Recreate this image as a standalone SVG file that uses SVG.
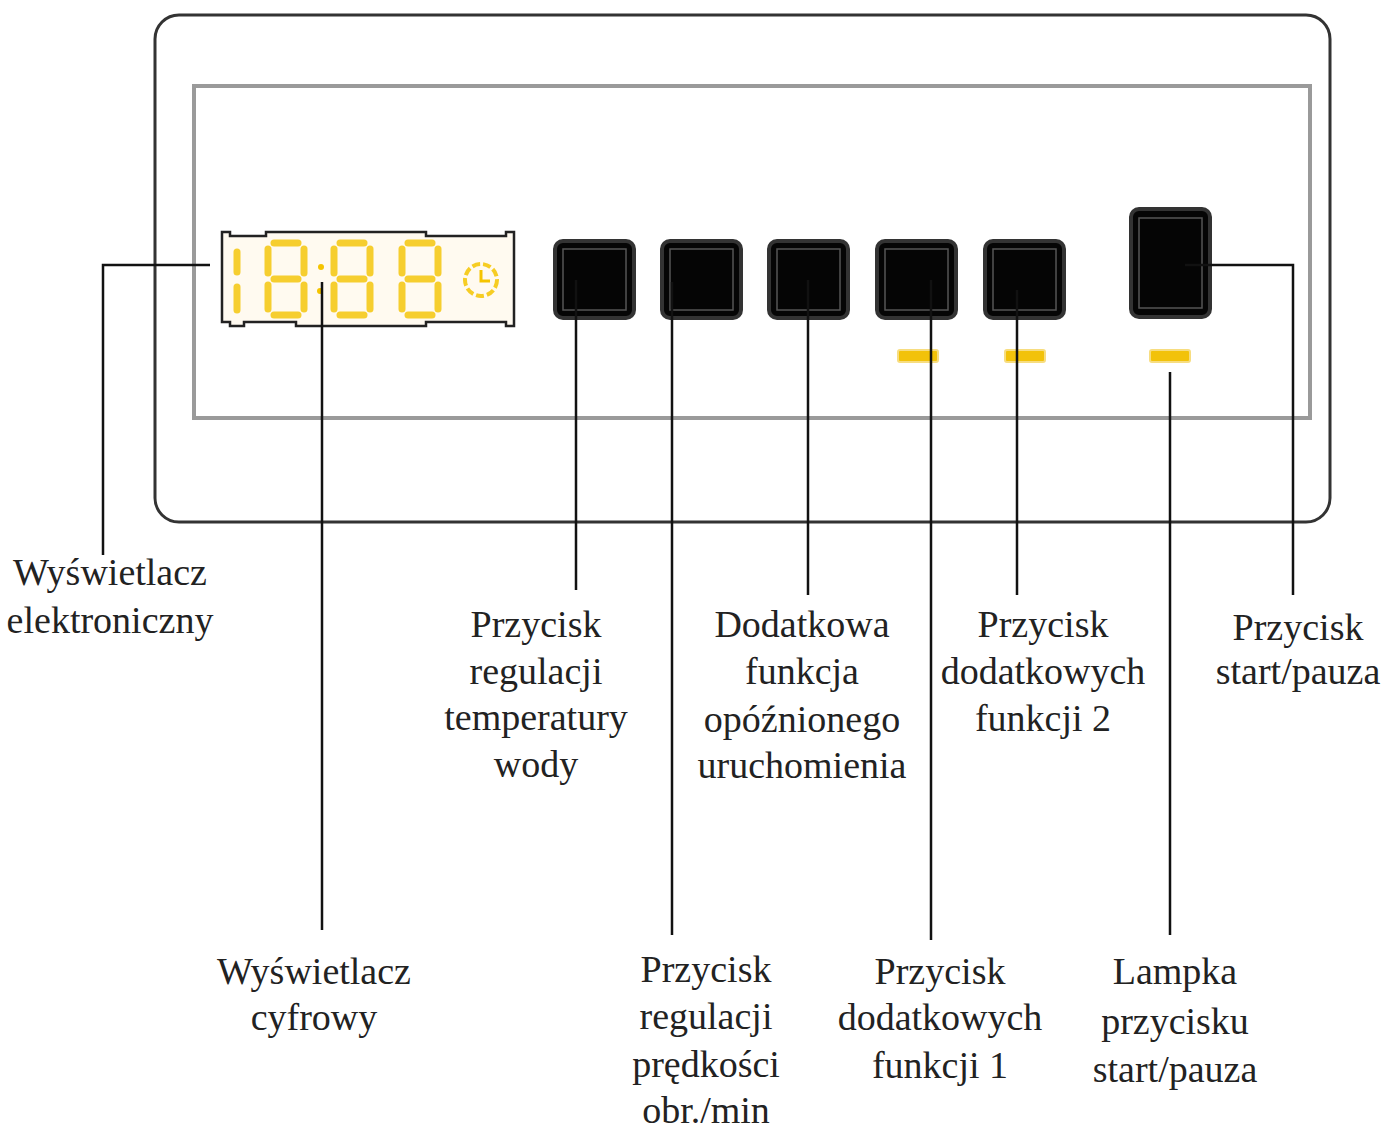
<svg xmlns="http://www.w3.org/2000/svg" xmlns:xlink="http://www.w3.org/1999/xlink" width="1395" height="1132" viewBox="0 0 1395 1132">
<style>
.t{font-family:"Liberation Serif",serif;font-size:38px;fill:#222;text-anchor:middle}
.ln{stroke:#111;stroke-width:2.5;fill:none}
.btn{fill:#050505;stroke:#333;stroke-width:4}
.bi{fill:none;stroke:#555;stroke-width:1.5}
.seg{stroke:#f5c400;stroke-width:7;stroke-linecap:round;opacity:.8}
.led{fill:#f2c20a;stroke:#f7dd80;stroke-width:2}
</style>
<defs>
<g id="d8" class="seg">
<line x1="8" y1="2" x2="32" y2="2"/><line x1="8" y1="38" x2="32" y2="38"/><line x1="8" y1="74" x2="32" y2="74"/>
<line x1="2" y1="8" x2="2" y2="32"/><line x1="2" y1="44" x2="2" y2="68"/>
<line x1="38" y1="8" x2="38" y2="32"/><line x1="38" y1="44" x2="38" y2="68"/>
</g>
</defs>
<rect width="1395" height="1132" fill="#fff"/>
<g id="panel">
<rect x="155" y="15" width="1175" height="507" rx="24" fill="#fff" stroke="#333" stroke-width="3"/>
<rect x="194" y="86" width="1116" height="332" fill="none" stroke="#9a9a9a" stroke-width="4"/>
</g>
<g id="display">
<path d="M222,232 h8 v4 h36 v-4 h160 v4 h80 v-4 h8 v94 h-8 v-4 h-80 v4 h-130 v-4 h-52 v4 h-14 v-4 h-8 z" fill="#fffaf0" stroke="#222" stroke-width="2.5"/>
<g class="seg"><line x1="237" y1="252" x2="237" y2="272"/><line x1="237" y1="287" x2="237" y2="310"/></g>
<use xlink:href="#d8" x="266" y="241"/>
<circle cx="321" cy="267" r="3" fill="#f5c400"/><circle cx="320" cy="291" r="3" fill="#f5c400"/>
<use xlink:href="#d8" x="332" y="241"/>
<use xlink:href="#d8" x="400" y="241"/>
<circle cx="481" cy="280" r="16" fill="none" stroke="#f5c400" stroke-width="4" stroke-dasharray="8 3" opacity=".85"/>
<path d="M481,270 v11 h9" fill="none" stroke="#f5c400" stroke-width="3"/>
</g>
<g id="buttons">
<rect class="btn" x="555" y="241" width="79" height="77" rx="8"/><rect class="bi" x="563" y="249" width="63" height="61"/>
<rect class="btn" x="662" y="241" width="79" height="77" rx="8"/><rect class="bi" x="670" y="249" width="63" height="61"/>
<rect class="btn" x="769" y="241" width="79" height="77" rx="8"/><rect class="bi" x="777" y="249" width="63" height="61"/>
<rect class="btn" x="877" y="241" width="79" height="77" rx="8"/><rect class="bi" x="885" y="249" width="63" height="61"/>
<rect class="btn" x="985" y="241" width="79" height="77" rx="8"/><rect class="bi" x="993" y="249" width="63" height="61"/>
<rect class="btn" x="1131" y="209" width="79" height="108" rx="8"/><rect class="bi" x="1139" y="218" width="63" height="90"/>
</g>
<g id="leds">
<rect class="led" x="898" y="350" width="40" height="12" rx="2"/>
<rect class="led" x="1005" y="350" width="40" height="12" rx="2"/>
<rect class="led" x="1150" y="350" width="40" height="12" rx="2"/>
</g>
<g id="connectors">
<polyline class="ln" points="210,265 103,265 103,555"/>
<line class="ln" x1="322" y1="282" x2="322" y2="930"/>
<line class="ln" x1="576" y1="280" x2="576" y2="590"/>
<line class="ln" x1="672" y1="282" x2="672" y2="935"/>
<line class="ln" x1="808" y1="280" x2="808" y2="595"/>
<line class="ln" x1="931" y1="280" x2="931" y2="940"/>
<line class="ln" x1="1017" y1="290" x2="1017" y2="595"/>
<line class="ln" x1="1170" y1="372" x2="1170" y2="935"/>
<polyline class="ln" points="1185,265 1293,265 1293,595"/>
</g>
<g id="labels">
<text class="t" x="110" y="585">Wyświetlacz</text><text class="t" x="110" y="633">elektroniczny</text>
<text class="t" x="314" y="984">Wyświetlacz</text><text class="t" x="314" y="1030">cyfrowy</text>
<text class="t" x="536" y="637">Przycisk</text><text class="t" x="536" y="684">regulacji</text><text class="t" x="536" y="730">temperatury</text><text class="t" x="536" y="777">wody</text>
<text class="t" x="706" y="982">Przycisk</text><text class="t" x="706" y="1029">regulacji</text><text class="t" x="706" y="1077">prędkości</text><text class="t" x="706" y="1123">obr./min</text>
<text class="t" x="802" y="637">Dodatkowa</text><text class="t" x="802" y="684">funkcja</text><text class="t" x="802" y="732">opóźnionego</text><text class="t" x="802" y="778">uruchomienia</text>
<text class="t" x="940" y="984">Przycisk</text><text class="t" x="940" y="1030">dodatkowych</text><text class="t" x="940" y="1078">funkcji 1</text>
<text class="t" x="1043" y="637">Przycisk</text><text class="t" x="1043" y="684">dodatkowych</text><text class="t" x="1043" y="731">funkcji 2</text>
<text class="t" x="1175" y="984">Lampka</text><text class="t" x="1175" y="1034">przycisku</text><text class="t" x="1175" y="1082">start/pauza</text>
<text class="t" x="1298" y="640">Przycisk</text><text class="t" x="1298" y="684">start/pauza</text>
</g>
</svg>
